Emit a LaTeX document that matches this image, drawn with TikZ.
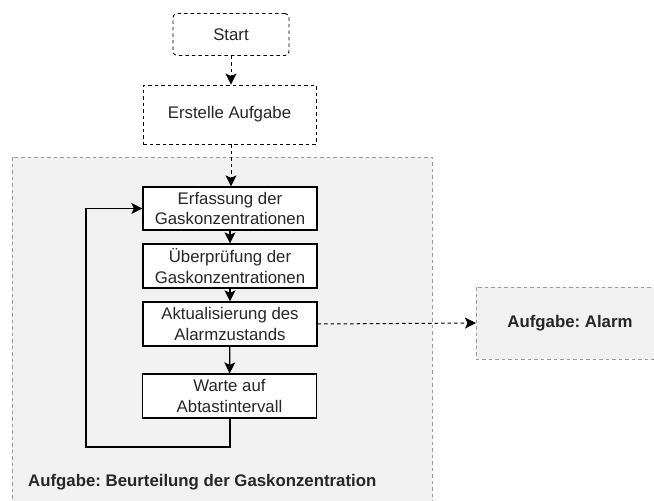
\documentclass[tikz,border=0pt]{standalone}
\usepackage{fontspec}
\setmainfont{Liberation Sans}
\usetikzlibrary{arrows.meta}
\frenchspacing
\definecolor{panelfill}{HTML}{F1F1F1}
\definecolor{panelline}{HTML}{9A9A9A}
\definecolor{inktext}{HTML}{262626}
\tikzset{
  lbl/.style={font=\fontsize{16.8}{20.4}\selectfont, text=inktext, align=center, inner sep=0pt},
  stepbox/.style={lbl, draw=black, line width=1.3pt, fill=white, minimum width=174pt, minimum height=44pt},
  dashbox/.style={lbl, draw=black, line width=0.9pt, dash pattern=on 3.5pt off 3pt, fill=white},
  panel/.style={fill=panelfill, draw=panelline, line width=1pt, dash pattern=on 3.5pt off 3pt},
  flow/.style={line width=1.3pt, -{Stealth[length=11pt,width=11pt,inset=2.5pt]}},
  dflow/.style={flow, line width=1pt, dash pattern=on 3.5pt off 3pt},
  loopline/.style={flow}
}
\begin{document}
\begin{tikzpicture}[x=1pt,y=-1pt]
\useasboundingbox (0,0) rectangle (654,501);
\clip (0,0) rectangle (654,501);

% task containers
\draw[panel] (12,157) rectangle (432,520);
\draw[panel] (476,287) rectangle (670,359);
\node[lbl, font=\fontsize{16.8}{20.4}\selectfont\bfseries, anchor=west] (taskA) at (28,482) {Aufgabe: Beurteilung der Gaskonzentration};
\node[lbl, font=\fontsize{16.8}{20.4}\selectfont\bfseries] (alarm) at (570,323) {Aufgabe: Alarm};
\coordinate (alarmIn) at (476,323);

% start and task creation
\node[dashbox, rounded corners=4pt, minimum width=116pt, minimum height=42pt] (start) at (231,34.5) {Start};
\node[dashbox, minimum width=173pt, minimum height=59pt] (create) at (229.5,114.5) {Erstelle Aufgabe};

% task steps
\node[stepbox, minimum height=43pt] (acquire) at (230,208.5) {Erfassung der\\Gaskonzentrationen};
\node[stepbox] (check) at (230,266) {Überprüfung der\\Gaskonzentrationen};
\node[stepbox] (update) at (230,324) {Aktualisierung des\\Alarmzustands};
\node[stepbox] (wait) at (229.5,396) {Warte auf\\Abtastintervall};

% connectors
\draw[dflow] (start.south -| 231,0) -- (create.north -| 231,0);
\draw[dflow] (create.south -| 231,0) -- (acquire.north -| 231,0);
\draw[flow] (acquire) -- (check);
\draw[flow] (check) -- (update);
\draw[flow] (update) -- (wait);
\draw[dflow] (update.east) -- (alarmIn);
\coordinate (loopA) at (230,447);
\coordinate (loopB) at (86,447);
\draw[loopline] (wait.south -| loopA) -- (loopA) -- (loopB) |- (acquire.west);
\end{tikzpicture}
\end{document}
